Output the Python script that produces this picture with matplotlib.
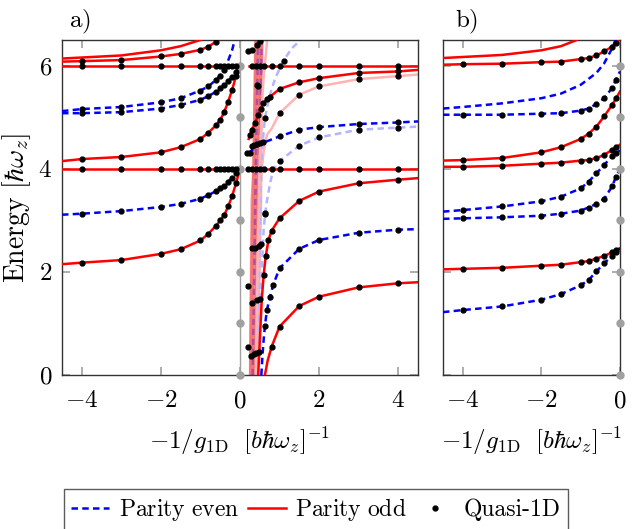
import matplotlib.pyplot as plt

plt.rcParams['font.family'] = ['cmr10', 'DejaVu Serif']
plt.rcParams['mathtext.fontset'] = 'cm'
plt.rcParams['axes.formatter.use_mathtext'] = True
plt.rcParams['font.size'] = 18

RED = '#ff0000'
BLUE = '#0000ff'
RED_F = '#ffb4b4'
BLUE_F = '#b4b4ff'
GRID = '#a0a0a0'
LW = 1.8
MS = 3.5

# ---------------- panel a, repulsive side (x < 0) ----------------
a_xl = [-4.5, -4, -3, -2, -1.5, -1, -0.8, -0.6, -0.5, -0.4, -0.3, -0.2, -0.1, 0]
a_r1 = [2.15, 2.18, 2.23, 2.35, 2.44, 2.61, 2.74, 2.90, 3.00, 3.10, 3.27, 3.47, 3.72, 4.00]
a_b1 = [3.11, 3.13, 3.18, 3.26, 3.32, 3.42, 3.49, 3.57, 3.62, 3.67, 3.75, 3.83, 3.92, 4.00]
a_r3 = [4.15, 4.19, 4.23, 4.32, 4.42, 4.58, 4.70, 4.85, 4.95, 5.10, 5.30, 5.53, 5.80, 6.00]
a_b2 = [5.08, 5.08, 5.10, 5.17, 5.24, 5.34, 5.41, 5.50, 5.56, 5.63, 5.70, 5.78, 5.88, 6.00]
a_b3 = [5.12, 5.16, 5.20, 5.29, 5.37, 5.52, 5.60, 5.73, 5.81, 5.92, 6.10, 6.30, 6.60]
a_r4 = [6.08, 6.09, 6.11, 6.18, 6.23, 6.31, 6.37, 6.47, 6.55]
a_r5 = [6.14, 6.16, 6.20, 6.30, 6.38, 6.50, 6.58]
a_flat_l4 = [4.0] * 14
a_flat_l6 = [6.0] * 14

# ---------------- panel a, attractive side (x > 0) ----------------
a_flat_r_x = [0.17, 4.5]
a_flat6_r_x = [0.22, 4.5]
a_flat_dots_x = [0.2, 0.3, 0.4, 0.5, 0.6, 0.8, 1.0, 1.5, 2, 3, 4]

a_ra_x = [0.63, 0.7, 0.8, 1.0, 1.5, 2, 3, 4, 4.5]
a_ra_y = [0.0, 0.28, 0.55, 0.94, 1.34, 1.52, 1.70, 1.78, 1.80]
a_ba_x = [0.54, 0.57, 0.6, 0.63, 0.68, 0.76, 0.84, 1.0, 1.5, 2, 3, 4, 4.5]
a_ba_y = [0.0, 0.4, 0.7, 0.95, 1.26, 1.52, 1.75, 2.07, 2.45, 2.62, 2.76, 2.82, 2.83]
a_rb_x = [0.46, 0.51, 0.55, 0.6, 0.65, 0.72, 0.8, 1.0, 1.5, 2, 3, 4, 4.5]
a_rb_y = [0.0, 0.81, 1.46, 1.95, 2.3, 2.62, 2.8, 3.04, 3.38, 3.56, 3.72, 3.79, 3.82]
a_bb_x = [0.2, 0.3, 0.4, 0.5, 0.6, 0.7, 0.8, 1.0, 1.5, 2, 3, 4, 4.5]
a_bb_y = [4.3, 4.36, 4.42, 4.47, 4.51, 4.54, 4.57, 4.63, 4.76, 4.81, 4.87, 4.90, 4.92]
a_rc_x = [0.22, 0.25, 0.3, 0.38, 0.46, 0.52, 0.59, 0.68, 0.76, 1.0, 1.5, 2, 3, 4, 4.5]
a_rc_y = [4.58, 4.66, 4.76, 4.89, 5.05, 5.17, 5.27, 5.35, 5.40, 5.55, 5.68, 5.76, 5.86, 5.89, 5.92]

# faded (second set of curves)
a_bc_x = [0.47, 0.52, 0.56, 0.6, 0.64, 0.68, 0.76, 0.84, 1.0, 1.5, 2, 3, 4, 4.5]
a_bc_y = [0.0, 1.2, 2.2, 2.85, 3.15, 3.37, 3.72, 3.98, 4.15, 4.45, 4.61, 4.76, 4.80, 4.82]
a_rd_x = [0.42, 0.46, 0.5, 0.55, 0.6, 0.68, 0.8, 1.0, 1.5, 2, 3, 4, 4.5]
a_rd_y = [0.0, 1.8, 3.4, 4.01, 4.34, 4.66, 4.78, 5.08, 5.44, 5.60, 5.74, 5.80, 5.83]
a_bd_x = [0.42, 0.48, 0.52, 0.55, 0.59, 0.63, 0.7, 0.76, 0.89, 1.1, 1.31, 1.6]
a_bd_y = [0.0, 2.0, 3.4, 4.27, 4.66, 4.98, 5.25, 5.44, 5.76, 6.10, 6.34, 6.55]
a_re_x = [0.4, 0.45, 0.5, 0.55, 0.6, 0.65, 0.7]
a_re_y = [0.0, 2.5, 4.2, 5.2, 5.8, 6.2, 6.6]
a_bc_dots = [4, 8, 9, 10, 11, 12]
a_rd_dots = [7, 8, 9, 10, 11]
a_bd_dots = [5, 9]

# narrow band of steep (deeply bound) states
band_y = [0.0, 3.4, 4.0, 6.5]
band_left = [0.21, 0.25, 0.30, 0.34]
band_right = [0.46, 0.55, 0.55, 0.59]
band_r1_x = [0.28, 0.30, 0.33, 0.37, 0.42]
band_r2_x = [0.38, 0.41, 0.44, 0.48, 0.53]
band_b1_x = [0.32, 0.35, 0.38, 0.41, 0.46]
band_b2_x = [0.41, 0.44, 0.47, 0.50, 0.55]
band_line_y = [0.0, 1.5, 3.0, 4.5, 6.5]

band_dot_x = [0.21, 0.28, 0.35, 0.41, 0.49, 0.21, 0.30, 0.42, 0.51, 0.30, 0.38, 0.49, 0.54,
              0.25, 0.30, 0.36, 0.42, 0.50, 0.58, 0.42, 0.46, 0.21, 0.30, 0.42, 0.51, 0.62, 0.17]
band_dot_y = [0.55, 0.37, 0.40, 0.43, 0.45, 1.73, 1.40, 1.46, 1.47, 2.46, 2.47, 2.50, 2.54,
              4.30, 4.45, 4.46, 4.48, 4.50, 4.52, 5.63, 5.60, 6.28, 6.31, 6.41, 6.49, 3.13, 4.30]

# ---------------- panel b ----------------
b_x = [-4.5, -4, -3, -2, -1.5, -1, -0.8, -0.6, -0.4, -0.2, -0.1, 0]
b_rtop_x = [-4.5, -4, -3, -2, -1.5, -1.1]
b_rtop_y = [6.15, 6.17, 6.21, 6.30, 6.38, 6.50]
b_r2 = [6.02, 6.03, 6.04, 6.07, 6.08, 6.13, 6.15, 6.20, 6.28, 6.37, 6.44, 6.55]
b_b3_x = [-4.5, -4, -3, -2, -1.5, -1, -0.6, -0.4, -0.2, 0]
b_b3_y = [5.17, 5.20, 5.27, 5.37, 5.46, 5.63, 5.86, 6.05, 6.34, 6.70]
b_b4 = [5.05, 5.05, 5.05, 5.07, 5.08, 5.13, 5.17, 5.26, 5.37, 5.57, 5.73, 5.89]
b_r5 = [4.16, 4.17, 4.21, 4.32, 4.42, 4.58, 4.68, 4.82, 5.02, 5.24, 5.37, 5.50]
b_r6 = [4.04, 4.04, 4.06, 4.10, 4.12, 4.16, 4.17, 4.21, 4.27, 4.37, 4.42, 4.47]
b_b7 = [3.17, 3.20, 3.27, 3.37, 3.46, 3.62, 3.75, 3.91, 4.08, 4.24, 4.30, 4.36]
b_b8 = [3.03, 3.04, 3.06, 3.09, 3.13, 3.19, 3.25, 3.32, 3.42, 3.66, 3.85, 4.00]
b_r9 = [2.05, 2.06, 2.08, 2.12, 2.14, 2.19, 2.21, 2.26, 2.31, 2.38, 2.42, 2.46]
b_b10 = [1.22, 1.26, 1.33, 1.46, 1.57, 1.74, 1.84, 2.01, 2.17, 2.31, 2.39, 2.46]

limit_levels = [0, 1, 2, 3, 4, 5, 6]
yticks = [0, 2, 4, 6]
ytick_labels = [r'$0$', r'$2$', r'$4$', r'$6$']
a_xticks = [-4, -2, 0, 2, 4]
a_xtick_labels = [r'$-4$', r'$-2$', r'$0$', r'$2$', r'$4$']
b_xticks = [-4, -2, 0]
b_xtick_labels = [r'$-4$', r'$-2$', r'$0$']

DASH = (0, (2.6, 1.7))


def dots(ax, x, y):
    ax.plot(x, y, 'o', color='k', ms=MS, zorder=6)


def odd(ax, x, y, sl=None, faded=False):
    ax.plot(x, y, color=RED_F if faded else RED, lw=LW, zorder=2 if faded else 3)
    if sl is not None:
        dots(ax, x[sl], y[sl])


def even(ax, x, y, sl=None, faded=False):
    ax.plot(x, y, color=BLUE_F if faded else BLUE, lw=LW, ls=DASH,
            zorder=2 if faded else 3)
    if sl is not None:
        dots(ax, x[sl], y[sl])


def style(ax, xticks, xlabels, left_labels):
    ax.set_ylim(0, 6.5)
    ax.set_yticks(yticks)
    ax.set_xticks(xticks)
    ax.set_xticklabels(xlabels)
    ax.set_yticklabels(ytick_labels if left_labels else [])
    ax.tick_params(direction='in', top=True, right=True, length=6, width=1.2,
                   color=GRID, labelsize=18)
    ax.tick_params(axis='x', pad=11)
    ax.tick_params(axis='y', pad=7)
    for s in ax.spines.values():
        s.set_color('#333333')
        s.set_linewidth(1.0)
    ax.set_xlabel(r'$-1/g_{\mathrm{1D}}\ \ [b\hbar\omega_z]^{-1}$', fontsize=18, labelpad=9)


fig = plt.figure(figsize=(6.37, 5.29), dpi=100)
ax_a = fig.add_axes([0.0973, 0.2911, 0.5589, 0.6333])
ax_b = fig.add_axes([0.6954, 0.2911, 0.2779, 0.6333])

# ---- panel a ----
ax = ax_a
ax.set_xlim(-4.5, 4.5)
ax.axvline(0, color=GRID, lw=1.0, zorder=1)

# band of steep curves
ax.fill_betweenx(band_y, band_left, band_right, color='#f7b0b0', lw=0, zorder=1)
for bx in (band_r1_x, band_r2_x):
    ax.plot(bx, band_line_y, color=RED, alpha=0.35, lw=3, zorder=2)
for bx in (band_b1_x, band_b2_x):
    ax.plot(bx, band_line_y, color='#7030c0', alpha=0.55, lw=1.8, ls=(0, (2.5, 1.5)), zorder=2)

even(ax, a_bc_x, a_bc_y, faded=True)
odd(ax, a_rd_x, a_rd_y, faded=True)
even(ax, a_bd_x, a_bd_y, faded=True)
odd(ax, a_re_x, a_re_y, faded=True)
dots(ax, [a_bc_x[i] for i in a_bc_dots], [a_bc_y[i] for i in a_bc_dots])
dots(ax, [a_rd_x[i] for i in a_rd_dots], [a_rd_y[i] for i in a_rd_dots])
dots(ax, [a_bd_x[i] for i in a_bd_dots], [a_bd_y[i] for i in a_bd_dots])

# x < 0
mid = slice(1, -1)
odd(ax, a_xl, a_r1, mid)
even(ax, a_xl, a_b1, mid)
odd(ax, a_xl, a_r3, mid)
even(ax, a_xl, a_b2, mid)
even(ax, a_xl[:len(a_b3)], a_b3, slice(1, 10))
odd(ax, a_xl[:len(a_r4)], a_r4, slice(1, 8))
odd(ax, a_xl[:len(a_r5)], a_r5)
odd(ax, a_xl, a_flat_l4, mid)
odd(ax, a_xl, a_flat_l6, mid)

# x > 0
ax.plot(a_flat_r_x, [4, 4], color=RED, lw=LW, zorder=3)
ax.plot(a_flat6_r_x, [6, 6], color=RED, lw=LW, zorder=3)
dots(ax, a_flat_dots_x, [4] * len(a_flat_dots_x))
dots(ax, a_flat_dots_x[1:], [6] * (len(a_flat_dots_x) - 1))
odd(ax, a_ra_x, a_ra_y, slice(2, 8))
even(ax, a_ba_x, a_ba_y, slice(3, 12))
odd(ax, a_rb_x, a_rb_y, slice(3, 12))
even(ax, a_bb_x, a_bb_y, slice(7, 12))
odd(ax, a_rc_x, a_rc_y, slice(1, 14))
dots(ax, band_dot_x, band_dot_y)

ax.plot([0] * len(limit_levels), limit_levels, 'o', color=GRID, ms=5, zorder=5, clip_on=False)
style(ax, a_xticks, a_xtick_labels, True)
ax.set_ylabel(r'$\mathrm{Energy}\ [\hbar\omega_z]$', fontsize=20, labelpad=4)
ax.text(0.02, 1.012, r'$\mathrm{a)}$', transform=ax.transAxes, fontsize=18, va='bottom')

# ---- panel b ----
ax = ax_b
ax.set_xlim(-4.5, 0)
odd(ax, b_rtop_x, b_rtop_y)
odd(ax, b_x, b_r2, mid)
even(ax, b_b3_x, b_b3_y)
even(ax, b_x, b_b4, mid)
odd(ax, b_x, b_r5, mid)
odd(ax, b_x, b_r6, mid)
even(ax, b_x, b_b7, mid)
even(ax, b_x, b_b8, mid)
odd(ax, b_x, b_r9, mid)
even(ax, b_x, b_b10, mid)
ax.plot([0] * len(limit_levels), limit_levels, 'o', color=GRID, ms=5, zorder=5, clip_on=False)
style(ax, b_xticks, b_xtick_labels, False)
ax.text(0.07, 1.012, r'$\mathrm{b)}$', transform=ax.transAxes, fontsize=18, va='bottom')

# ---- legend ----
handles = [
    plt.Line2D([], [], color=BLUE, lw=LW, ls=DASH),
    plt.Line2D([], [], color=RED, lw=LW),
    plt.Line2D([], [], color='k', marker='o', ms=MS, ls='none'),
]
labels = [r'$\mathrm{Parity\ even}$', r'$\mathrm{Parity\ odd}$', 'Quasi-1D']
leg = fig.legend(handles, labels, loc='center', bbox_to_anchor=(0.496, 0.036), ncol=3,
                 frameon=True, fancybox=False, edgecolor='#333333', fontsize=17,
                 handlelength=1.6, columnspacing=0.4, handletextpad=0.4,
                 borderpad=0.3, borderaxespad=0)
leg.get_frame().set_linewidth(1.0)

fig.savefig('out.png', dpi=100)
